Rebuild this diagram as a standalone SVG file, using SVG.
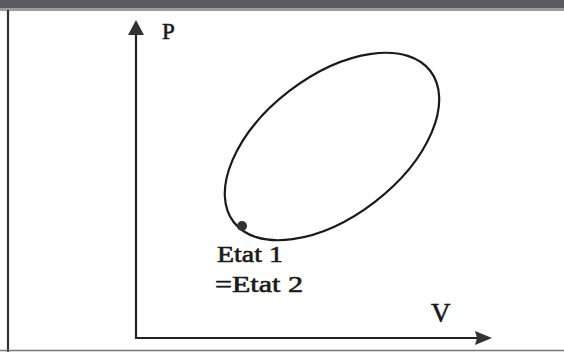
<svg xmlns="http://www.w3.org/2000/svg" width="564" height="352" viewBox="0 0 564 352">
  <style>
    .ax { stroke: #222; stroke-width: 2.2; fill: none; }
    .lbl { font-family: "Liberation Serif", "DejaVu Serif", serif; fill: #1a1a1a; stroke: #1a1a1a; stroke-width: 0.6; }
  </style>
  <rect x="0" y="0" width="564" height="352" fill="#ffffff"/>
  <!-- frame -->
  <g id="frame">
    <rect x="0" y="0" width="564" height="8" fill="#5a5a60"/>
    <rect x="0" y="8" width="564" height="3" fill="#9a9aa0"/>
    <line x1="8" y1="10" x2="8" y2="352" stroke="#333" stroke-width="2.2"/>
    <line x1="0" y1="350.5" x2="564" y2="350.5" stroke="#777" stroke-width="1.5"/>
  </g>
  <!-- axes -->
  <g id="axes">
    <path class="ax" d="M136,34 V338 H478"/>
    <polygon points="136,20 128,35 144,35" fill="#333"/>
    <polygon points="492,338 475,331 477,338 475,345" fill="#333"/>
    <text class="lbl" x="162" y="39" font-size="23">P</text>
    <text class="lbl" x="431" y="322" font-size="27">V</text>
  </g>
  <!-- cycle -->
  <g id="cycle">
    <ellipse cx="332" cy="146.5" rx="124" ry="70" transform="rotate(-37.5 332 146.5)" fill="none" stroke="#1a1a1a" stroke-width="2.2"/>
  </g>
  <g id="etat">
    <circle cx="242" cy="226" r="5" fill="#333"/>
    <text class="lbl" x="217" y="262" font-size="23" textLength="66" lengthAdjust="spacingAndGlyphs">Etat 1</text>
    <text class="lbl" x="215" y="292" font-size="23" textLength="88" lengthAdjust="spacingAndGlyphs">=Etat 2</text>
  </g>
</svg>
